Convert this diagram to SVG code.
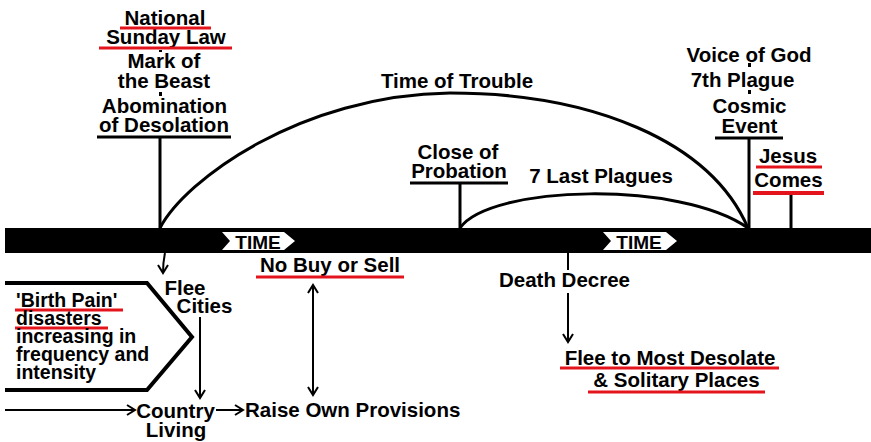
<svg xmlns="http://www.w3.org/2000/svg" width="871" height="442" viewBox="0 0 871 442">
<defs>
<style>
text{font-family:"Liberation Sans",Arial,sans-serif;font-weight:bold;font-size:20.5px;fill:#000}
.c{text-anchor:middle}
.tm{font-size:19px}
.bx{font-size:19.5px}
.ul{stroke:#000;stroke-width:3;fill:none}
.red{stroke:#e3141c;stroke-width:3;fill:none}
.st{stroke:#000;stroke-width:3;fill:none}
.arc{stroke:#000;stroke-width:3;fill:none}
.ar{stroke:#000;stroke-width:2;fill:none;marker-end:url(#ah)}
.ar2{stroke:#000;stroke-width:2;fill:none;marker-end:url(#ah);marker-start:url(#ah)}
</style>
<marker id="ah" markerWidth="12" markerHeight="12" refX="10" refY="6" orient="auto-start-reverse" markerUnits="userSpaceOnUse">
<path d="M2,1 L10,6 L2,11" fill="none" stroke="#000" stroke-width="2"/>
</marker>
</defs>
<rect width="871" height="442" fill="#fff"/>

<g id="timeline">
<rect x="5" y="228" width="866" height="25" fill="#000"/>
<polygon points="222,232 284,232 295,241 284,250 222,250 230,241" fill="#fff"/>
<text class="c tm" x="258" y="248.5">TIME</text>
<polygon points="603,232 666,232 677,241 666,250 603,250 611,241" fill="#fff"/>
<text class="c tm" x="639" y="248.5">TIME</text>
</g>

<g id="connectors">
<path class="arc" d="M160,228 C185,180 300,95 450,93 C590,93 710,140 748,228"/>
<path class="arc" d="M460,228 C490,185 680,180 748,228"/>
<line class="st" x1="160" y1="137" x2="160" y2="228"/>
<line class="st" x1="460" y1="183" x2="460" y2="228"/>
<line class="st" x1="749" y1="138" x2="749" y2="228"/>
<line class="st" x1="791" y1="195" x2="791" y2="228"/>
<rect x="159" y="50" width="3" height="2" fill="#000"/>
<rect x="159" y="92" width="3" height="4" fill="#000"/>
<rect x="748" y="63" width="3" height="4" fill="#000"/>
<rect x="748" y="90" width="3" height="4" fill="#000"/>
<path class="ar" d="M165,253 Q163,262 163,273"/>
<line class="ar" x1="200" y1="317" x2="200" y2="398"/>
<line class="ar2" x1="313" y1="285" x2="313" y2="395"/>
<line class="st" x1="568" y1="253" x2="568" y2="270" style="stroke-width:2"/>
<line class="ar" x1="568" y1="293" x2="568" y2="342"/>
<line class="ar" x1="5" y1="410" x2="135" y2="410"/>
<line class="ar" x1="216" y1="410" x2="243" y2="410"/>
</g>

<g id="node-sunday-law">
<text class="c" x="165" y="25">National</text>
<text class="c" x="166" y="44">Sunday Law</text>
<line class="red" x1="120" y1="28" x2="211" y2="28"/>
<line class="red" x1="99" y1="48" x2="232" y2="48"/>
<text class="c" x="164" y="68">Mark of</text>
<text class="c" x="164" y="88">the Beast</text>
<text class="c" x="164.5" y="113">Abomination</text>
<text class="c" x="164" y="132">of Desolation</text>
<line class="ul" x1="97" y1="137" x2="231" y2="137"/>
</g>

<g id="node-time-of-trouble">
<text class="c" x="457" y="88">Time of Trouble</text>
</g>

<g id="node-close-of-probation">
<text class="c" x="458" y="159">Close of</text>
<text class="c" x="459" y="178">Probation</text>
<line class="ul" x1="410" y1="183" x2="508" y2="183"/>
</g>

<g id="node-7-last-plagues">
<text class="c" x="601" y="183">7 Last Plagues</text>
</g>

<g id="node-voice-of-god">
<text class="c" x="749" y="62">Voice of God</text>
<text class="c" x="742.5" y="87">7th Plague</text>
<text class="c" x="749.5" y="113">Cosmic</text>
<text class="c" x="749.5" y="133">Event</text>
<line class="ul" x1="715" y1="138" x2="783" y2="138"/>
</g>

<g id="node-jesus-comes">
<text class="c" x="788" y="163">Jesus</text>
<line class="red" x1="756" y1="167" x2="822" y2="167"/>
<text class="c" x="788.5" y="187">Comes</text>
<line class="red" x1="753" y1="193" x2="824" y2="193" style="stroke-width:4"/>
</g>

<g id="node-birth-pain">
<polyline points="5,283 147,283 192,337 147,390 5,390" fill="none" stroke="#000" stroke-width="4"/>
<text class="bx" x="16" y="307">'Birth Pain'</text>
<line class="red" x1="15" y1="310" x2="123" y2="310"/>
<text class="bx" x="16" y="325">disasters</text>
<line class="red" x1="15" y1="328" x2="108" y2="328"/>
<text class="bx" x="16" y="343">increasing in</text>
<text class="bx" x="16" y="361">frequency and</text>
<text class="bx" x="16" y="379">intensity</text>
</g>

<g id="node-flee-cities">
<text class="c" x="185" y="295">Flee</text>
<text class="c" x="204.5" y="313">Cities</text>
</g>

<g id="node-no-buy-or-sell">
<text class="c" x="330" y="272">No Buy or Sell</text>
<line class="red" x1="256" y1="277" x2="404" y2="277"/>
</g>

<g id="node-country-living">
<text class="c" x="175.5" y="418">Country</text>
<text class="c" x="176" y="437">Living</text>
</g>

<g id="node-raise-provisions">
<text x="245" y="417">Raise Own Provisions</text>
</g>

<g id="node-death-decree">
<text class="c" x="564.5" y="287">Death Decree</text>
</g>

<g id="node-flee-desolate">
<text class="c" x="670" y="365">Flee to Most Desolate</text>
<line class="red" x1="560" y1="368" x2="779" y2="368"/>
<text class="c" x="676.5" y="387">&amp; Solitary Places</text>
<line class="red" x1="588" y1="392" x2="765" y2="392"/>
</g>
</svg>
